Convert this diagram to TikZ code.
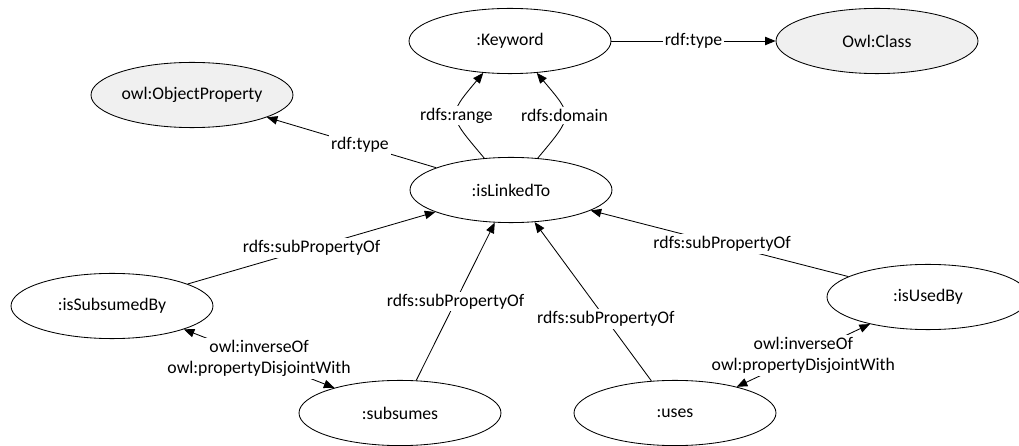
\documentclass[tikz,border=0pt]{standalone}
\usepackage{fontspec}
\setmainfont{Carlito}
\usetikzlibrary{arrows.meta, shapes.geometric}

\begin{document}
\begin{tikzpicture}[
    font=\fontsize{12.6}{15}\selectfont,
    res/.style={ellipse, draw, line width=0.6pt, fill=white,
      minimum width=5.05cm, minimum height=1.63cm, inner sep=0pt},
    owlres/.style={res, fill=black!6},
    lbl/.style={fill=white, inner sep=1.5pt},
    rel/.style={line width=0.6pt, -{Triangle[length=7.5pt, width=6pt]}},
    biRel/.style={line width=0.6pt, {Triangle[length=7.5pt, width=6pt]}-{Triangle[length=7.5pt, width=6pt]}}
  ]
  \useasboundingbox (0,0) rectangle (25.475,-11.15);
  % ---------- resources ----------
  \node[res] (keyword) at (12.75,-1.025) {:Keyword};
  \node[owlres] (owlClass) at (21.925,-1.025) {Owl:Class};
  \node[owlres] (objProp) at (4.8,-2.375) {owl:ObjectProperty};
  \node[res] (linkedTo) at (12.775,-4.75) {:isLinkedTo};
  \node[res] (subsumedBy) at (2.8,-7.65) {:isSubsumedBy};
  \node[res] (usedBy) at (23.2,-7.425) {:isUsedBy};
  \node[res] (subsumes) at (10.0,-10.325) {:subsumes};
  \node[res] (uses) at (16.875,-10.325) {:uses};
  % ---------- types ----------
  \draw[rel] (keyword) -- node[lbl] {rdf:type} (owlClass);
  \draw[rel] (linkedTo) -- node[lbl, pos=0.45] {rdf:type} (objProp);
  % ---------- range and domain ----------
  \draw[rel] (linkedTo.130) to[out=130, in=230, looseness=1.7] node[lbl] {rdfs:range} (keyword.230);
  \draw[rel] (linkedTo.50) to[out=50, in=-50, looseness=1.7] node[lbl] {rdfs:domain} (keyword.-50);
  % ---------- sub properties ----------
  \draw[rel] (subsumedBy) -- node[lbl, pos=0.5] {rdfs:subPropertyOf} (linkedTo);
  \draw[rel] (subsumes) -- node[lbl, pos=0.5] {rdfs:subPropertyOf} (linkedTo);
  \draw[rel] (uses) -- node[lbl, pos=0.39] {rdfs:subPropertyOf} (linkedTo);
  \draw[rel] (usedBy) -- node[lbl, pos=0.49] {rdfs:subPropertyOf} (linkedTo);
  % ---------- inverse pairs ----------
  \draw[biRel] (subsumedBy.-18) -- node[lbl, align=center] {owl:inverseOf\\owl:propertyDisjointWith} (subsumes.159);
  \draw[biRel] (uses.23) -- node[lbl, align=center] {owl:inverseOf\\owl:propertyDisjointWith} (usedBy.205);
\end{tikzpicture}
\end{document}
